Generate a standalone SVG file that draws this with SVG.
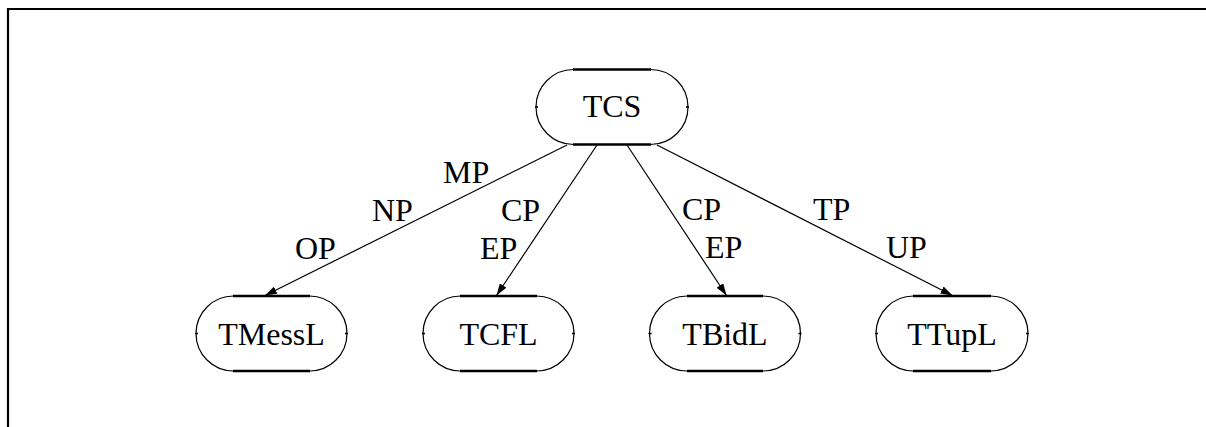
<svg xmlns="http://www.w3.org/2000/svg" width="1206" height="427" viewBox="0 0 1206 427">
<style>
.frame{fill:none;stroke:#000;stroke-width:2.2}
.box{fill:#fff;stroke:#000;stroke-width:1.2}
.flat{stroke:#000;stroke-width:2.4}
.tick{stroke:#000;stroke-width:1.6}
.lbl{font-size:32px;fill:#000}
.nl{font-size:32px;fill:#000;text-anchor:middle}
.edge{stroke:#000;stroke-width:1.2;fill:none}
</style>
<defs>
<marker id="ah" viewBox="0 0 12 8" refX="12" refY="4" markerWidth="12" markerHeight="8" markerUnits="userSpaceOnUse" orient="auto">
<path d="M0,0 L12,4 L0,8 Z" fill="#000"/>
</marker>
</defs>
<path class="frame" d="M8,427 V9 H1206"/>
<g font-family="'Liberation Serif', 'Times New Roman', 'DejaVu Serif', serif">
<g id="TCS">
<rect class="box" x="536" y="69.5" width="152" height="75" rx="37.5" ry="37.5"/>
<line class="flat" x1="573" y1="69.5" x2="651" y2="69.5"/>
<line class="flat" x1="573" y1="144.5" x2="651" y2="144.5"/>
<line class="tick" x1="535" y1="107" x2="538" y2="107"/>
<line class="tick" x1="686" y1="107" x2="689" y2="107"/>
<text class="nl" x="612" y="116.5">TCS</text>
</g>
<g id="TMessL">
<rect class="box" x="196" y="296" width="151" height="75" rx="37.5" ry="37.5"/>
<line class="flat" x1="233" y1="296" x2="310" y2="296"/>
<line class="flat" x1="233" y1="371" x2="310" y2="371"/>
<line class="tick" x1="195" y1="333.5" x2="198" y2="333.5"/>
<line class="tick" x1="345" y1="333.5" x2="348" y2="333.5"/>
<text class="nl" x="271.5" y="345">TMessL</text>
</g>
<g id="TCFL">
<rect class="box" x="423" y="296" width="151" height="75" rx="37.5" ry="37.5"/>
<line class="flat" x1="460" y1="296" x2="537" y2="296"/>
<line class="flat" x1="460" y1="371" x2="537" y2="371"/>
<line class="tick" x1="422" y1="333.5" x2="425" y2="333.5"/>
<line class="tick" x1="572" y1="333.5" x2="575" y2="333.5"/>
<text class="nl" x="498.5" y="345">TCFL</text>
</g>
<g id="TBidL">
<rect class="box" x="649.5" y="296" width="151" height="75" rx="37.5" ry="37.5"/>
<line class="flat" x1="687" y1="296" x2="763" y2="296"/>
<line class="flat" x1="687" y1="371" x2="763" y2="371"/>
<line class="tick" x1="648.5" y1="333.5" x2="651.5" y2="333.5"/>
<line class="tick" x1="798.5" y1="333.5" x2="801.5" y2="333.5"/>
<text class="nl" x="725" y="345">TBidL</text>
</g>
<g id="TTupL">
<rect class="box" x="876" y="296" width="152" height="75" rx="37.5" ry="37.5"/>
<line class="flat" x1="913" y1="296" x2="991" y2="296"/>
<line class="flat" x1="913" y1="371" x2="991" y2="371"/>
<line class="tick" x1="875" y1="333.5" x2="878" y2="333.5"/>
<line class="tick" x1="1026" y1="333.5" x2="1029" y2="333.5"/>
<text class="nl" x="952" y="345">TTupL</text>
</g>
<g id="connectors">
<line class="edge" x1="567" y1="145" x2="265" y2="295.5" marker-end="url(#ah)"/>
<line class="edge" x1="597" y1="145" x2="496.5" y2="295.5" marker-end="url(#ah)"/>
<line class="edge" x1="627" y1="145" x2="726.5" y2="295.5" marker-end="url(#ah)"/>
<line class="edge" x1="657" y1="145" x2="952.5" y2="295.5" marker-end="url(#ah)"/>
<text class="lbl" x="443" y="183">MP</text>
<text class="lbl" x="372" y="221">NP</text>
<text class="lbl" x="295" y="259">OP</text>
<text class="lbl" x="501" y="221">CP</text>
<text class="lbl" x="480" y="259">EP</text>
<text class="lbl" x="682" y="220">CP</text>
<text class="lbl" x="705" y="258">EP</text>
<text class="lbl" x="813" y="220">TP</text>
<text class="lbl" x="886" y="258">UP</text>
</g>
</g>
</svg>
